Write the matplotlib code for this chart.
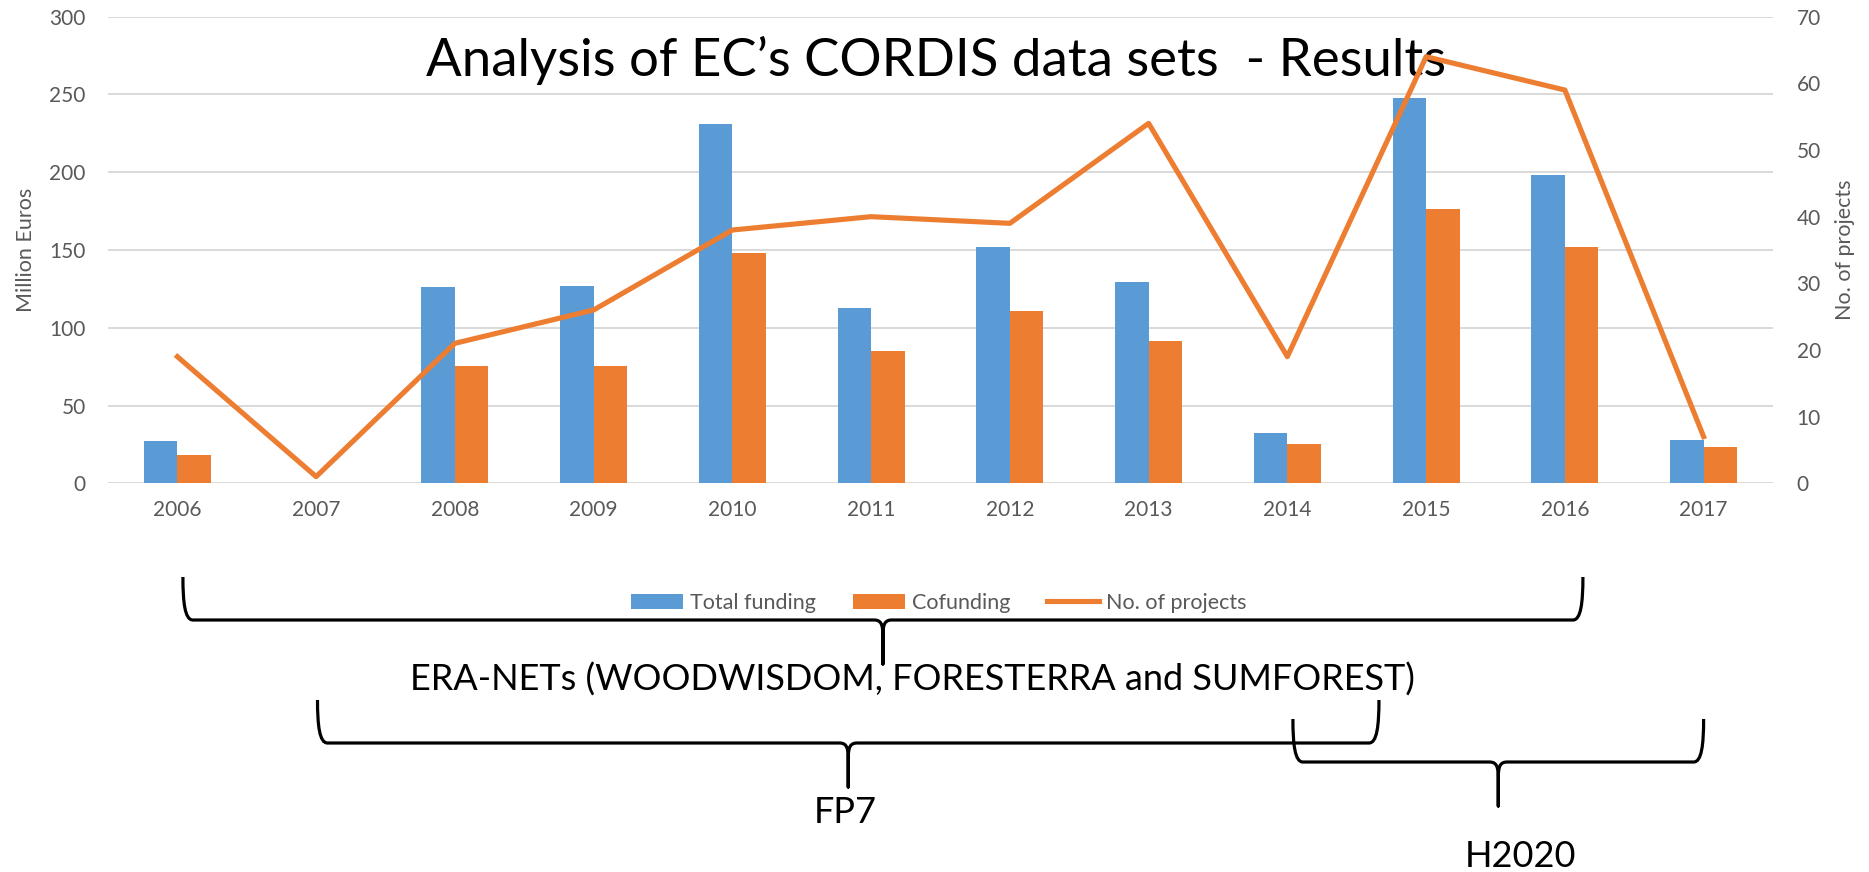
import matplotlib.pyplot as plt
from matplotlib.path import Path
from matplotlib.patches import PathPatch

years = ["2006", "2007", "2008", "2009", "2010", "2011",
         "2012", "2013", "2014", "2015", "2016", "2017"]
total_funding = [27.2, 0, 126.0, 127.0, 231.0, 112.7, 151.7, 129.6, 32.5, 247.9, 198.4, 27.8]
cofunding = [18.0, 0, 75.6, 75.4, 147.9, 85.3, 111.0, 91.5, 25.1, 176.5, 152.1, 23.1]
projects = [19, 1, 21, 26, 38, 40, 39, 54, 19, 64, 59, 7]

# programme braces below the chart (spans in year-index units)
programmes = ["ERA-NETs (WOODWISDOM, FORESTERRA and SUMFOREST)", "FP7", "H2020"]
prog_start = [0.04, 1.01, 8.04]
prog_end = [10.13, 8.66, 11.0]
prog_label_x = [5.30, 4.81, 9.68]

blue = "#5B9BD5"
orange = "#ED7D31"
grey = "#595959"
small = 15
plt.rcParams['font.family'] = ['Lato', 'DejaVu Sans']

W, H = 1869, 872
fig = plt.figure(figsize=(W / 100, H / 100), dpi=100)
ax = fig.add_axes([108 / W, 1 - 483.3 / H, 1665 / W, 466.6 / H])
ax2 = ax.twinx()

x = list(range(len(years)))
bw = 0.241
ax.bar([i - bw / 2 for i in x], total_funding, bw, color=blue, label="Total funding")
ax.bar([i + bw / 2 for i in x], cofunding, bw, color=orange, label="Cofunding")
ax2.plot(x, projects, color=orange, lw=3.7, label="No. of projects", zorder=3)

ax.set_xlim(-0.5, len(years) - 0.5)
ax.set_ylim(0, 300)
ax.set_yticks(range(0, 301, 50))
ax2.set_ylim(0, 70)
ax2.set_yticks(range(0, 71, 10))
ax.set_xticks(x)
ax.set_xticklabels(years)
ax.yaxis.grid(True, color="#d9d9d9", lw=1.4)
ax.set_axisbelow(True)
for a in (ax, ax2):
    for s in a.spines.values():
        s.set_visible(False)
ax.tick_params(axis="y", length=0, pad=16, labelsize=small, labelcolor=grey)
ax.tick_params(axis="x", length=0, pad=12, labelsize=small, labelcolor=grey)
ax2.tick_params(axis="y", length=0, pad=17, labelsize=small, labelcolor=grey)

fig.text(26 / W, 1 - 250 / H, "Million Euros", rotation=90, ha="center", va="center",
         fontsize=small + 0.5, color=grey)
fig.text(1845 / W, 1 - 250 / H, "No. of projects", rotation=90, ha="center", va="center",
         fontsize=small + 0.5, color=grey)

ax2.text(936 / W, 1 - 60 / H, "Analysis of EC\u2019s CORDIS data sets  - Results",
         transform=fig.transFigure, ha="center", va="center", fontsize=38,
         fontweight="normal", color="black", zorder=1)

h1, l1 = ax.get_legend_handles_labels()
h2, l2 = ax2.get_legend_handles_labels()
fig.legend(h1 + h2, l1 + l2, loc="center", bbox_to_anchor=(939 / W, 1 - 603 / H),
           ncol=3, frameon=False, fontsize=small + 0.5, labelcolor=grey,
           handlelength=2.4, handleheight=0.7, handletextpad=0.35, columnspacing=1.7)

# overlay in pixel coordinates for the braces
ov = fig.add_axes([0, 0, 1, 1])
ov.set_xlim(0, W)
ov.set_ylim(H, 0)
ov.axis("off")


def to_px(idx):
    return ax.transData.transform((idx, 0))[0]


def brace(x0, x1, ytop, arm=43, tip=44):
    yh = ytop + arm
    xm = (x0 + x1) / 2
    verts = [(x0, ytop), (x0, ytop + 0.6 * arm), (x0 + 2, yh), (x0 + 10, yh),
             (xm - 9, yh),
             (xm - 2, yh), (xm, yh + 4), (xm, yh + 16),
             (xm, yh + tip),
             (xm, yh + 16),
             (xm, yh + 4), (xm + 2, yh), (xm + 9, yh),
             (x1 - 10, yh),
             (x1 - 2, yh), (x1, ytop + 0.6 * arm), (x1, ytop)]
    codes = [Path.MOVETO, Path.CURVE4, Path.CURVE4, Path.CURVE4,
             Path.LINETO,
             Path.CURVE4, Path.CURVE4, Path.CURVE4,
             Path.LINETO,
             Path.LINETO,
             Path.CURVE4, Path.CURVE4, Path.CURVE4,
             Path.LINETO,
             Path.CURVE4, Path.CURVE4, Path.CURVE4]
    ov.add_patch(PathPatch(Path(verts, codes), fill=False, lw=2.3, ec="black",
                           capstyle="butt", joinstyle="round"))


brace_tops = [577, 700, 719]
label_base = [691, 823, 867]
for name, s, e, lx, yt, yb in zip(programmes, prog_start, prog_end, prog_label_x,
                                  brace_tops, label_base):
    brace(to_px(s), to_px(e), yt)
    ov.text(to_px(lx), yb, name, ha="center", va="baseline", fontsize=26, color="black")

fig.savefig("out.png", dpi=100)
